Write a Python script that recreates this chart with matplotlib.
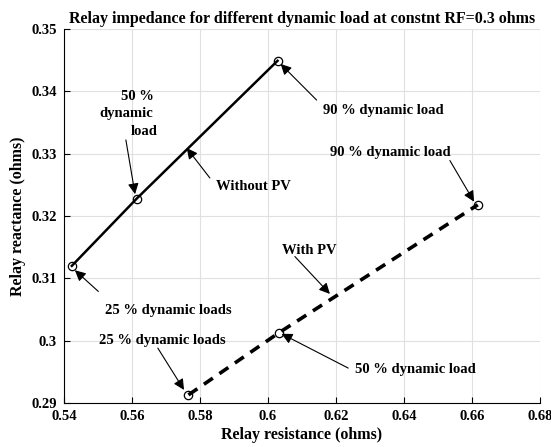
import numpy as np
import matplotlib.pyplot as plt

# data
res_no_pv = [0.5423, 0.5614, 0.6028]
reac_no_pv = [0.3120, 0.3228, 0.3449]
res_pv = [0.5766, 0.6033, 0.6617]
reac_pv = [0.2913, 0.3013, 0.3218]

xticks = [0.54, 0.56, 0.58, 0.6, 0.62, 0.64, 0.66, 0.68]
xtick_labels = ['0.54', '0.56', '0.58', '0.6', '0.62', '0.64', '0.66', '0.68']
yticks = [0.29, 0.3, 0.31, 0.32, 0.33, 0.34, 0.35]
ytick_labels = ['0.29', '0.3', '0.31', '0.32', '0.33', '0.34', '0.35']

# (text, text xy, arrow tail xy, arrow head xy, ha)
notes = [
    ('Without PV', (0.5846, 0.3247), (0.5829, 0.3261), (0.5761, 0.3309), 'left'),
    ('90 % dynamic load', (0.6162, 0.3369), (0.6143, 0.3386), (0.6037, 0.3444), 'left'),
    ('25 % dynamic loads', (0.5521, 0.3049), (0.5501, 0.3079), (0.5432, 0.3113), 'left'),
    ('25 % dynamic loads', (0.5503, 0.3000), (0.5676, 0.2988), (0.5753, 0.2921), 'left'),
    ('90 % dynamic load', (0.6182, 0.3302), (0.6535, 0.3289), (0.6606, 0.3223), 'left'),
    ('With PV', (0.6042, 0.3145), (0.6079, 0.3135), (0.6182, 0.3075), 'left'),
    ('50 % dynamic load', (0.6256, 0.2954), (0.6236, 0.2956), (0.6040, 0.3011), 'left'),
]

plt.rcParams['font.family'] = ['Liberation Serif', 'DejaVu Serif']
plt.rcParams['font.weight'] = 'bold'

fig = plt.figure(figsize=(5.51, 4.47), dpi=100)
ax = fig.add_axes([64/551, 44/447, 476/551, 374/447])

ax.plot(res_no_pv, reac_no_pv, '-o', color='black', lw=1.8,
        ms=6, mfc='none', mec='black', mew=0.9)
ax.plot(res_pv, reac_pv, '--o', color='black', lw=2.6, dashes=(3, 2.2),
        ms=6, mfc='none', mec='black', mew=0.9)

ax.set_xlim(0.54, 0.68)
ax.set_ylim(0.29, 0.35)
ax.set_xticks(xticks)
ax.set_xticklabels(xtick_labels)
ax.set_yticks(yticks)
ax.set_yticklabels(ytick_labels)
ax.tick_params(direction='in', length=4, width=0.8, labelsize=10.5, pad=5)
ax.grid(True, color='#e0e0e0', lw=0.8)
ax.set_axisbelow(True)
for s in ['top', 'right']:
    ax.spines[s].set_visible(False)
for s in ['left', 'bottom']:
    ax.spines[s].set_linewidth(0.8)

ax.set_xlabel('Relay resistance (ohms)', fontsize=11.5, fontweight='bold', labelpad=3)
ax.set_ylabel('Relay reactance (ohms)', fontsize=11.5, fontweight='bold', labelpad=4)
ax.set_title('Relay impedance for different dynamic load at constnt RF=0.3 ohms',
             fontsize=11.5, fontweight='bold', pad=4)

arrow = dict(arrowstyle='-|>', color='black', lw=0.8, mutation_scale=16,
             shrinkA=0, shrinkB=0)

for txt, txy, tail, head, ha in notes:
    ax.text(txy[0], txy[1], txt, fontsize=10.5, fontweight='bold', ha=ha, va='center')
    ax.annotate('', xy=head, xytext=tail, arrowprops=arrow)

# three-line label near the middle point of the first curve
ax.text(0.5616, 0.3391, '50 %', fontsize=10.5, fontweight='bold', ha='center', va='center')
ax.text(0.5584, 0.3364, 'dynamic', fontsize=10.5, fontweight='bold', ha='center', va='center')
ax.text(0.5635, 0.3335, 'load', fontsize=10.5, fontweight='bold', ha='center', va='center')
ax.annotate('', xy=(0.5609, 0.3235), xytext=(0.5582, 0.3322), arrowprops=arrow)

fig.savefig('out.png', dpi=100)
